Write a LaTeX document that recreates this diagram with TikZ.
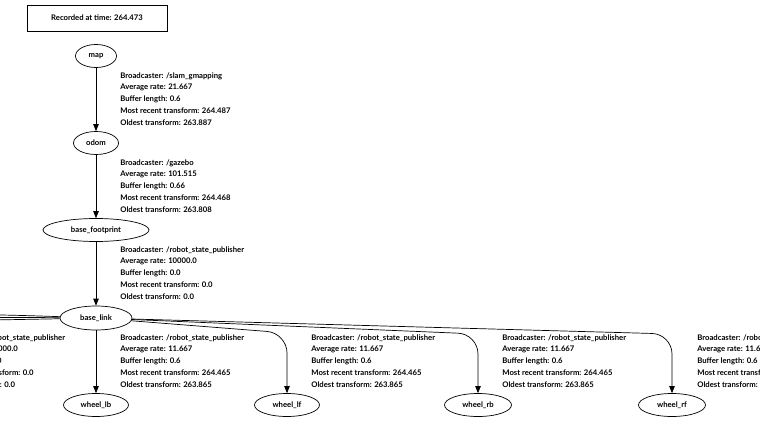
\documentclass[tikz,border=0pt]{standalone}
\usepackage{fontspec}
\setmainfont{Lato}
\usetikzlibrary{shapes.geometric,arrows.meta}

% texto de cada transformada
\newcommand{\tfinfo}[5]{Broadcaster: #1\\Average rate: #2\\Buffer length: #3\\Most recent transform: #4\\Oldest transform: #5}

\begin{document}
\begin{tikzpicture}[x=1pt,y=-1pt,line width=0.7pt,>={Triangle[length=7pt,width=5.5pt]},
  frame/.style={ellipse,draw,inner sep=0pt,minimum height=23pt,font=\fontsize{7.7}{9}\bfseries},
  info/.style={anchor=north west,align=left,inner sep=0pt,font=\fontsize{7.7}{11.8}\bfseries}]
  \useasboundingbox (0,0) rectangle (760,423);
  \clip (0,0) rectangle (760,423);
  % cabecera
  \node[draw,minimum width=140pt,minimum height=26pt,inner sep=0pt,font=\fontsize{7.7}{9}\bfseries] (stamp) at (97,18) {Recorded at time: 264.473};
  % cadena principal
  \node[frame,minimum width=41pt] (map) at (96,56) {map};
  \node[frame,minimum width=45pt] (odom) at (96,143) {odom};
  \node[frame,minimum width=106pt] (base_footprint) at (96,230) {base\_footprint};
  \node[frame,minimum width=72pt,minimum height=24pt] (base_link) at (96,318) {base\_link};
  % ruedas
  \node[frame,minimum width=65pt] (wheel_lb) at (96,405) {wheel\_lb};
  \node[frame,minimum width=65pt] (wheel_lf) at (287,405) {wheel\_lf};
  \node[frame,minimum width=67pt] (wheel_rb) at (478,405) {wheel\_rb};
  \node[frame,minimum width=67pt] (wheel_rf) at (672,405) {wheel\_rf};
  % codos de las aristas
  \coordinate (bend_lf) at (287,333);
  \coordinate (bend_rb) at (478,334);
  \coordinate (bend_rf) at (672,334);
  % marcos fuera de la vista
  \coordinate (hidden_a) at (-260,394);
  \coordinate (hidden_b) at (-450,394);
  \coordinate (hidden_c) at (-640,394);
  \draw[->] (map) -- (odom);
  \draw[->] (odom) -- (base_footprint);
  \draw[->] (base_footprint) -- (base_link);
  \draw[->] (base_link) -- (wheel_lb);
  \draw[->,rounded corners=20pt] (base_link) -- (bend_lf) -- (wheel_lf);
  \draw[->,rounded corners=20pt] (base_link) -- (bend_rb) -- (wheel_rb);
  \draw[->,rounded corners=20pt] (base_link) -- (bend_rf) -- (wheel_rf);
  \draw (base_link) .. controls (-150,316) and (-250,320) .. (hidden_a);
  \draw (base_link) .. controls (-150,309) and (-440,316) .. (hidden_b);
  \draw (base_link) .. controls (-150,323) and (-630,326) .. (hidden_c);
  % datos de cada arista
  \node[info] (info_map) at (120,72) {\tfinfo{/slam\_gmapping}{21.667}{0.6}{264.487}{263.887}};
  \node[info] (info_odom) at (120,159) {\tfinfo{/gazebo}{101.515}{0.66}{264.468}{263.808}};
  \node[info] (info_fp) at (120,246) {\tfinfo{/robot\_state\_publisher}{10000.0}{0.0}{0.0}{0.0}};
  \node[info] (info_hidden) at (-59,334) {\tfinfo{/robot\_state\_publisher}{10000.0}{0.0}{0.0}{0.0}};
  \foreach \x/\n in {120/lb,311/lf,502/rb,697/rf}
    \node[info] (info_\n) at (\x,334) {\tfinfo{/robot\_state\_publisher}{11.667}{0.6}{264.465}{263.865}};
\end{tikzpicture}
\end{document}
